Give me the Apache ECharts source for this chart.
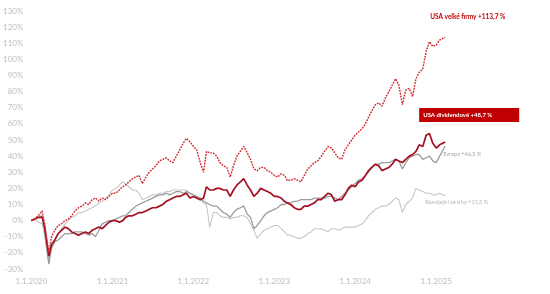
<!DOCTYPE html>
<html>
<head>
<meta charset="utf-8">
<script src="https://cdn.jsdelivr.net/npm/echarts@6/dist/echarts.min.js"></script>
<style>
  html, body { margin: 0; padding: 0; background: #ffffff; }
  #chart { width: 550px; height: 294px; }
</style>
</head>
<body>
<div id="chart"></div>
<script>
// Dates: the 1st and 16th of each month from 1.1.2020 to 16.1.2025, last point 10.2.2025
const dates = [];
for (let y = 2020; y <= 2025; y++) {
  for (let m = 1; m <= 12; m++) {
    if (y === 2025 && m > 1) break;
    const mm = String(m).padStart(2, '0');
    dates.push(y + '-' + mm + '-01', y + '-' + mm + '-16');
  }
}
dates[3] = '2020-02-19';   // pre-crash peak
dates[5] = '2020-03-20';   // covid low
dates.push('2025-02-10');

// Series values (% change since 1.1.2020), one per date
const usaLarge = [
  0,1,3,6,-2,-20,-10,-6,-3,-2,0,1,
  3,6,8,9,11,10,13,14,12,14,13,15,
  17,17,19,21,22,24,26,27,28,23,27,30,
  32,34,37,38,39,37,36,40,44,48,51,49,
  46,44,36,30,43,42,42,40,36,34,33,27,
  34,40,43,46,42,38,32,31,33,33,31,30,
  28,27,29,28,25,25,26,25,24,28,32,34,
  36,37,40,43,46,45,42,39,38,44,47,50,
  53,55,57,60,64,68,72,73,71,76,80,84,
  88,84,72,81,82,77,88,92,94,105,111,108,
  109,112,113.7];
const usaDividend = [
  0,1,2,2,-4,-22,-15,-12,-8,-6,-4,-5,
  -7,-8,-9,-8,-7,-8,-6,-5,-4,-5,-3,-1,
  0,0,-1,0,2,3,3,4,5,5,6,7,
  8,8,9,10,12,13,14,15,15,16,17,14,
  15,14,13,14,21,19,19,20,20,19,19,15,
  19,22,24,26,22,19,15,17,20,19,18,17,
  15,15,14,12,11,10,8,7,7,9,9,10,
  11,13,13,15,17,16,12,13,13,16,20,22,
  21,24,25,28,31,33,35,34,31,32,33,35,
  38,37,36,38,40,41,43,47,46,53,54,48,
  45,47,48.7];
const europe = [
  0,1,2,3,-8,-27,-17,-13,-12,-10,-8,-8,
  -8,-7,-7,-7,-8,-9,-8,-10,-6,-2,-1,0,
  0,1,2,3,3,5,7,9,10,11,12,13,
  14,15,16,16,17,16,17,18,18,17,18,17,
  16,15,14,12,11,10,9,9,7,5,4,2,
  5,7,8,9,4,2,-5,-3,0,3,5,6,
  7,8,10,10,11,11,12,12,13,13,13,13,
  14,14,14,14,15,15,14,13,15,17,19,21,
  23,25,26,28,30,33,35,35,36,36,36,37,
  38,37,32,36,39,40,41,41,38,39,40,37,
  36,40,46.3];
const emerging = [
  0,1,-1,-2,-8,-25,-17,-12,-8,-5,-2,0,
  2,3,5,5,6,7,8,9,11,12,14,16,
  19,20,22,24,23,21,19,19,17,13,14,15,
  16,16,17,17,18,18,19,19,19,19,19,17,
  16,14,13,11,10,-4,5,5,3,2,2,1,
  2,2,3,3,2,-2,-6,-11,-8,-6,-5,-4,
  -3,-3,-5,-7,-9,-9,-10,-11,-11,-10,-8,-7,
  -5,-5,-5,-6,-7,-5,-5,-6,-5,-4,-4,-4,
  -4,-3,-2,0,3,5,7,8,9,9,10,12,
  14,13,5,10,12,14,20,19,18,17,17,16,
  16,17,15.3];

const seriesNames = ['USA velké firmy', 'USA dividendové', 'Evropa', 'Rozvíjející se trhy'];
const endLabels = ['USA velké firmy +113,7 %', 'USA dividendové +48,7 %', 'Evropa +46,3 %', 'Rozvíjející se trhy +15,3 %'];

const pairs = arr => dates.map((d, i) => [d, arr[i]]);
const FONT = 'Lato';
const YEAR = 365 * 24 * 3600 * 1000;

const chart = echarts.init(document.getElementById('chart'), null, { renderer: 'canvas' });
chart.setOption({
  animation: false,
  backgroundColor: '#ffffff',
  grid: { left: 31, right: 33, top: 11, bottom: 25, containLabel: false },
  xAxis: {
    type: 'time',
    min: '2020-01-01',
    max: '2025-12-31',
    minInterval: YEAR,
    maxInterval: YEAR * 1.01,
    axisLine: { show: false },
    axisTick: { show: false },
    splitLine: { show: false },
    axisLabel: {
      formatter: v => '1.1.' + new Date(v).getFullYear(),
      color: '#bdbdbd', fontSize: 8, fontFamily: FONT, margin: 8
    }
  },
  yAxis: {
    type: 'value',
    min: -30, max: 130, interval: 10,
    axisLine: { show: false },
    axisTick: { show: false },
    splitLine: { show: false },
    axisLabel: { formatter: '{value}%', color: '#bdbdbd', fontSize: 8, fontFamily: FONT, margin: 8 }
  },
  series: [
    {
      name: seriesNames[3], type: 'line', data: pairs(emerging), symbol: 'none',
      lineStyle: { color: '#c6c6c6', width: 1.1 }, z: 1,
      endLabel: { show: true, formatter: endLabels[3], color: '#b5b5b5', fontSize: 5.5, fontFamily: FONT,
        distance: 0, align: 'left', verticalAlign: 'middle', offset: [-20, 6] }
    },
    {
      name: seriesNames[2], type: 'line', data: pairs(europe), symbol: 'none',
      lineStyle: { color: '#9c9c9c', width: 1.3 }, z: 2,
      endLabel: { show: true, formatter: endLabels[2], color: '#a8a8a8', fontSize: 5.5, fontFamily: FONT,
        distance: 0, align: 'left', verticalAlign: 'middle', offset: [-2, 8] }
    },
    {
      name: seriesNames[1], type: 'line', data: pairs(usaDividend), symbol: 'none',
      lineStyle: { color: '#a50f24', width: 1.7 }, z: 3,
      endLabel: { show: true, formatter: endLabels[1], color: '#ffffff', fontSize: 6, fontWeight: 'bold', fontFamily: FONT,
        backgroundColor: '#c00000', width: 92, padding: [4, 4], distance: 0, align: 'left', verticalAlign: 'middle', offset: [-26, -27] }
    },
    {
      name: seriesNames[0], type: 'line', data: pairs(usaLarge), symbol: 'none',
      lineStyle: { color: '#d0262b', width: 1.4, type: [1.8, 1.1] }, z: 4,
      endLabel: { show: true, formatter: endLabels[0], color: '#c00000', fontSize: 6.5, fontWeight: 'bold', fontFamily: FONT,
        distance: 0, align: 'left', verticalAlign: 'middle', offset: [-15, -20] }
    }
  ]
});
</script>
</body>
</html>
